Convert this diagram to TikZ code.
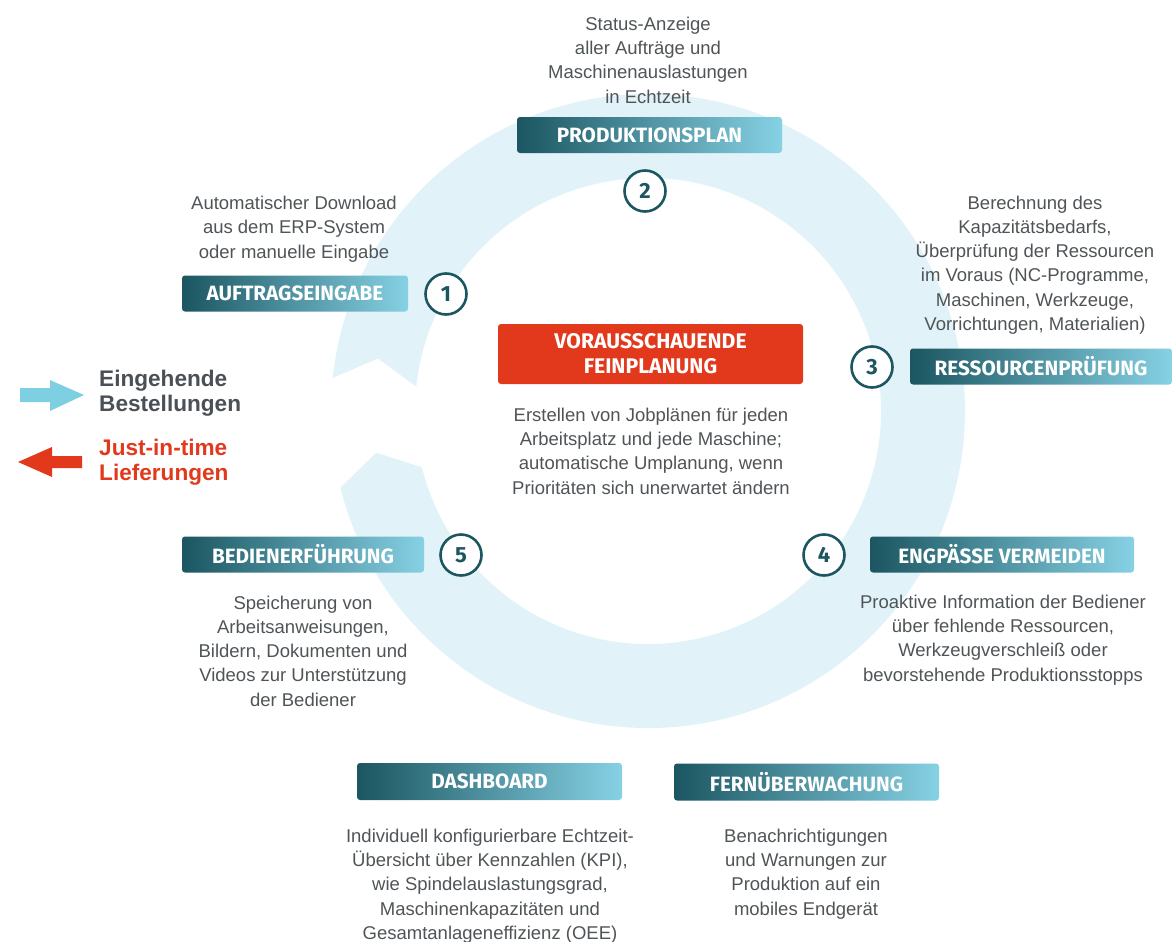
\documentclass[tikz,border=0pt]{standalone}
\usepackage{fontspec}
\setmainfont{Liberation Sans}
\newfontfamily\headfont{Fira Sans}
\usetikzlibrary{calc}

\definecolor{tealdark}{HTML}{1B5661}
\definecolor{tealpale}{HTML}{86D1E4}
\definecolor{ringblue}{HTML}{E1F3F8}
\definecolor{arrowblue}{HTML}{7FCFE3}
\definecolor{signalred}{HTML}{E2391C}
\definecolor{bodygray}{HTML}{4F5457}
\definecolor{legendgray}{HTML}{4A5056}

\begin{document}
\begin{tikzpicture}[x=1pt, y=-1pt,
    stage/.style={rounded corners=3pt, left color=tealdark, right color=tealpale,
      text=white, minimum height=36pt, inner sep=0pt,
      font=\headfont\bfseries\fontsize{20.7}{22}\selectfont},
    badge/.style={circle, draw=tealdark, line width=2.6pt, fill=white,
      minimum size=41pt, inner sep=0pt, text=tealdark,
      font=\headfont\bfseries\fontsize{22}{24}\selectfont},
    blurb/.style={align=center, text=bodygray, inner sep=0pt,
      font=\fontsize{18.5}{24.3}\selectfont},
    legend/.style={anchor=west, align=left, inner sep=0pt,
      font=\bfseries\fontsize{22.6}{25}\selectfont}]
  \useasboundingbox (0,0) rectangle (1173,942);
  \def\ringout{317}
  \def\ringin{233}
  \coordinate (hub) at (648,411);
  % the cycle behind everything
  \fill[ringblue] ($(hub)+(-174:\ringout)$)
    arc[start angle=-174, end angle=166, radius=\ringout]
    -- ($(hub)+(171.3:275)$) -- ($(hub)+(166:\ringin)$)
    arc[start angle=166, end angle=-174, radius=\ringin]
    -- ($(hub)+(-169:275)$) -- cycle;

  % legend
  \fill[arrowblue] (20,388) -- (50,388) -- (50,380) -- (84,395) -- (50,411)
    -- (50,402) -- (20,402) -- cycle;
  \node[legend, text=legendgray] (orders) at (99,393) {Eingehende\\Bestellungen};
  \fill[signalred] (82,456) -- (52,456) -- (52,447) -- (18,462) -- (52,477)
    -- (52,468) -- (82,468) -- cycle;
  \node[legend, text=signalred] (jit) at (99,462) {Just-in-time\\Lieferungen};

  % centre
  \node[rounded corners=3pt, fill=signalred, text=white, minimum width=305pt,
    minimum height=60pt, align=center,
    font=\headfont\bfseries\fontsize{21.2}{25}\selectfont] (core) at (650.5,354)
    {VORAUSSCHAUENDE\\FEINPLANUNG};
  \node[blurb] (coretxt) at (651,451) {Erstellen von Jobplänen für jeden\\
    Arbeitsplatz und jede Maschine;\\automatische Umplanung, wenn\\
    Prioritäten sich unerwartet ändern};

  % the five steps
  \node[stage, minimum width=226pt] (intake) at (295,293.5) {AUFTRAGSEINGABE};
  \node[blurb] (intaketxt) at (294,229) {Automatischer Download\\
    aus dem ERP-System\\oder manuelle Eingabe};
  \node[badge] (b1) at (446,294) {1};

  \node[stage, minimum width=265pt] (plan) at (649.5,135) {PRODUKTIONSPLAN};
  \node[blurb] (plantxt) at (648,60) {Status-Anzeige\\aller Aufträge und\\
    Maschinenauslastungen\\in Echtzeit};
  \node[badge] (b2) at (645,191) {2};

  \node[stage, minimum width=262pt] (check) at (1041,366.5) {RESSOURCENPRÜFUNG};
  \node[blurb] (checktxt) at (1035,265) {Berechnung des\\Kapazitätsbedarfs,\\
    Überprüfung der Ressourcen\\im Voraus (NC-Programme,\\
    Maschinen, Werkzeuge,\\Vorrichtungen, Materialien)};
  \node[badge] (b3) at (872,367) {3};

  \node[stage, minimum width=264pt] (neck) at (1002,554.5) {ENGPÄSSE VERMEIDEN};
  \node[blurb] (necktxt) at (1003,640) {Proaktive Information der Bediener\\
    über fehlende Ressourcen,\\Werkzeugverschleiß oder\\
    bevorstehende Produktionsstopps};
  \node[badge] (b4) at (824,555) {4};

  \node[stage, minimum width=242pt] (guide) at (303,554.5) {BEDIENERFÜHRUNG};
  \node[blurb] (guidetxt) at (303,651) {Speicherung von\\Arbeitsanweisungen,\\
    Bildern, Dokumenten und\\Videos zur Unterstützung\\der Bediener};
  \node[badge] (b5) at (461,555) {5};

  % extras below the cycle
  \node[stage, minimum width=265pt, minimum height=37pt] (dash) at (489.5,781.5) {DASHBOARD};
  \node[blurb] (dashtxt) at (490,886) {Individuell konfigurierbare Echtzeit-\\
    Übersicht über Kennzahlen (KPI),\\wie Spindelauslastungsgrad,\\
    Maschinenkapazitäten und\\Gesamtanlageneffizienz (OEE)};
  \node[stage, minimum width=265pt, minimum height=37pt] (remote) at (806.5,782) {FERNÜBERWACHUNG};
  \node[blurb] (remotetxt) at (806,874) {Benachrichtigungen\\und Warnungen zur\\
    Produktion auf ein\\mobiles Endgerät};
\end{tikzpicture}
\end{document}
